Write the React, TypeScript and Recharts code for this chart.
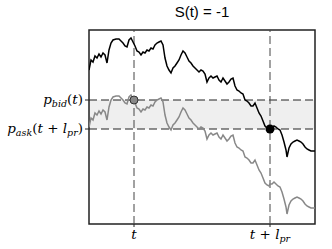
import { ComposedChart, Line, XAxis, YAxis, ReferenceArea, ReferenceLine, Scatter } from 'recharts'

// time index (pixel-ish steps along the window)
const times = [
  0, 2, 4, 6, 8, 10, 12, 14, 16, 18, 20, 22, 24, 27, 30, 32, 34, 36, 38, 40,
  42, 44, 46, 48, 50, 52, 54, 56, 58, 60, 62, 64, 66, 68, 70, 72, 74, 76, 78, 80,
  82, 84, 86, 88, 90, 92, 94, 96, 98, 100, 102, 104, 106, 108, 110, 112, 114, 116, 118, 120,
  122, 124, 126, 128, 130, 132, 134, 136, 138, 140, 142, 144, 146, 148, 150, 152, 154, 156, 158, 160,
  162, 164, 166, 168, 170, 172, 174, 176, 178, 180, 181, 183, 185, 187, 189, 191, 193, 195, 197, 198,
  200, 202, 204, 206, 208, 210, 212, 214, 216, 218, 220, 222, 224, 226,
]

// black series (ask)
const askPrices = [
  154, 164, 162, 168, 166, 170, 167, 171, 169, 161, 174, 181, 184, 185, 185, 183, 181, 178, 177, 184,
  186, 182, 178, 173, 172, 169, 172, 171, 174, 173, 176, 175, 179, 181, 182, 183, 179, 166, 158, 154,
  151, 156, 158, 161, 164, 169, 173, 171, 167, 163, 161, 158, 156, 154, 152, 154, 153, 150, 142, 146,
  148, 146, 147, 148, 144, 142, 146, 143, 140, 142, 145, 146, 138, 134, 133, 131, 130, 124, 123, 121,
  118, 118, 121, 116, 111, 108, 103, 98, 96, 95, 95, 96, 98, 97, 95, 94, 89, 82, 74, 67,
  76, 80, 82, 83, 84, 83, 82, 80, 77, 75, 74, 73, 73, 73,
]

// gray series (bid)
const bidPrices = [
  97, 106, 104, 111, 109, 113, 110, 114, 112, 104, 117, 124, 127, 128, 128, 126, 124, 121, 120, 127,
  129, 125, 121, 116, 115, 112, 115, 114, 117, 116, 119, 118, 122, 124, 125, 126, 122, 109, 101, 97,
  94, 99, 101, 104, 107, 112, 116, 114, 110, 106, 104, 101, 99, 97, 95, 97, 96, 93, 85, 89,
  91, 89, 90, 91, 87, 85, 89, 86, 83, 85, 88, 89, 81, 77, 76, 74, 73, 67, 66, 64,
  61, 61, 64, 59, 54, 51, 46, 41, 39, 38, 40, 40, 42, 40, 38, 37, 32, 25, 17, 10,
  19, 23, 25, 26, 27, 26, 25, 23, 20, 18, 17, 16, 16, 16,
]

const tickTimes = [45, 181]
const bidLevel = 124
const askLevel = 95

const data = times.map((x, i) => ({ x, ask: askPrices[i], bid: bidPrices[i] }))
const bidDot = [{ x: tickTimes[0], y: bidLevel }]
const askDot = [{ x: tickTimes[1], y: askLevel }]

const serif = 'DejaVu Serif'

const YTick = (props: any) => {
  const { x, y, payload } = props
  if (payload.value === bidLevel) {
    return (
      <text x={x} y={y + 4} textAnchor='end' fontFamily={serif} fontSize={13.5} fill='#000'>
        <tspan fontStyle='italic'>p</tspan>
        <tspan fontStyle='italic' fontSize={9.5} dy={3}>bid</tspan>
        <tspan dy={-3}>(</tspan>
        <tspan fontStyle='italic'>t</tspan>
        <tspan>)</tspan>
      </text>
    )
  }
  return (
    <text x={x} y={y + 4} textAnchor='end' fontFamily={serif} fontSize={13.5} fill='#000'>
      <tspan fontStyle='italic'>p</tspan>
      <tspan fontStyle='italic' fontSize={9.5} dy={3}>ask</tspan>
      <tspan dy={-3}>(</tspan>
      <tspan fontStyle='italic'>t</tspan>
      <tspan> + </tspan>
      <tspan fontStyle='italic'>l</tspan>
      <tspan fontStyle='italic' fontSize={9.5} dy={3}>pr</tspan>
      <tspan dy={-3}>)</tspan>
    </text>
  )
}

const XTick = (props: any) => {
  const { x, y, payload } = props
  if (payload.value === tickTimes[0]) {
    return (
      <text x={x} y={y + 10} textAnchor='middle' fontFamily={serif} fontSize={13.5} fill='#000'>
        <tspan fontStyle='italic'>t</tspan>
      </text>
    )
  }
  return (
    <text x={x} y={y + 10} textAnchor='middle' fontFamily={serif} fontSize={13.5} fill='#000'>
      <tspan fontStyle='italic'>t</tspan>
      <tspan> + </tspan>
      <tspan fontStyle='italic'>l</tspan>
      <tspan fontStyle='italic' fontSize={9.5} dy={3}>pr</tspan>
    </text>
  )
}

const App = () => {
  return (
    <div style={{ position: 'absolute', left: 0, top: 0, width: 332, height: 249, background: '#fff' }}>
      <div
        style={{
          position: 'absolute', left: 89, top: 3, width: 226, textAlign: 'center',
          fontFamily: 'Liberation Sans', fontSize: 15, color: '#000',
        }}
      >
        S(t) = -1
      </div>
      <ComposedChart
        width={332}
        height={249}
        data={data}
        margin={{ top: 30, right: 17, left: 0, bottom: 0 }}
      >
        <XAxis
          dataKey='x'
          type='number'
          domain={[0, 226]}
          ticks={tickTimes}
          tick={<XTick />}
          tickSize={3}
          tickLine={{ stroke: '#222' }}
          axisLine={false}
          height={25}
          allowDataOverflow={true}
        />
        <YAxis
          type='number'
          domain={[0, 194]}
          ticks={[askLevel, bidLevel]}
          tick={<YTick />}
          tickSize={4}
          tickLine={{ stroke: '#222' }}
          axisLine={false}
          width={89}
          allowDataOverflow={true}
        />
        <ReferenceArea y1={askLevel} y2={bidLevel} x1={0} x2={226} fill='#efefef' fillOpacity={1} stroke='none' />
        <ReferenceLine y={bidLevel} stroke='#222' strokeDasharray='8 4' />
        <ReferenceLine y={askLevel} stroke='#222' strokeDasharray='8 4' />
        <ReferenceLine x={tickTimes[0]} stroke='#444' strokeDasharray='8 4' />
        <ReferenceLine x={tickTimes[1]} stroke='#444' strokeDasharray='8 4' />
        <Line type='linear' dataKey='bid' stroke='#888' strokeWidth={1.5} dot={false} isAnimationActive={false} />
        <Line type='linear' dataKey='ask' stroke='#000' strokeWidth={1.5} dot={false} isAnimationActive={false} />
        <Scatter data={bidDot} dataKey='y' fill='#888' stroke='#333' isAnimationActive={false}
          shape={(p: any) => <circle cx={p.cx} cy={p.cy} r={4} fill='#888' stroke='#333' strokeWidth={1} />} />
        <Scatter data={askDot} dataKey='y' fill='#000' isAnimationActive={false}
          shape={(p: any) => <circle cx={p.cx} cy={p.cy} r={4.5} fill='#000' />} />
        <ReferenceArea x1={0} x2={226} y1={0} y2={194} fill='none' stroke='#222' strokeWidth={1.5} />
      </ComposedChart>
    </div>
  )
}

export default App
